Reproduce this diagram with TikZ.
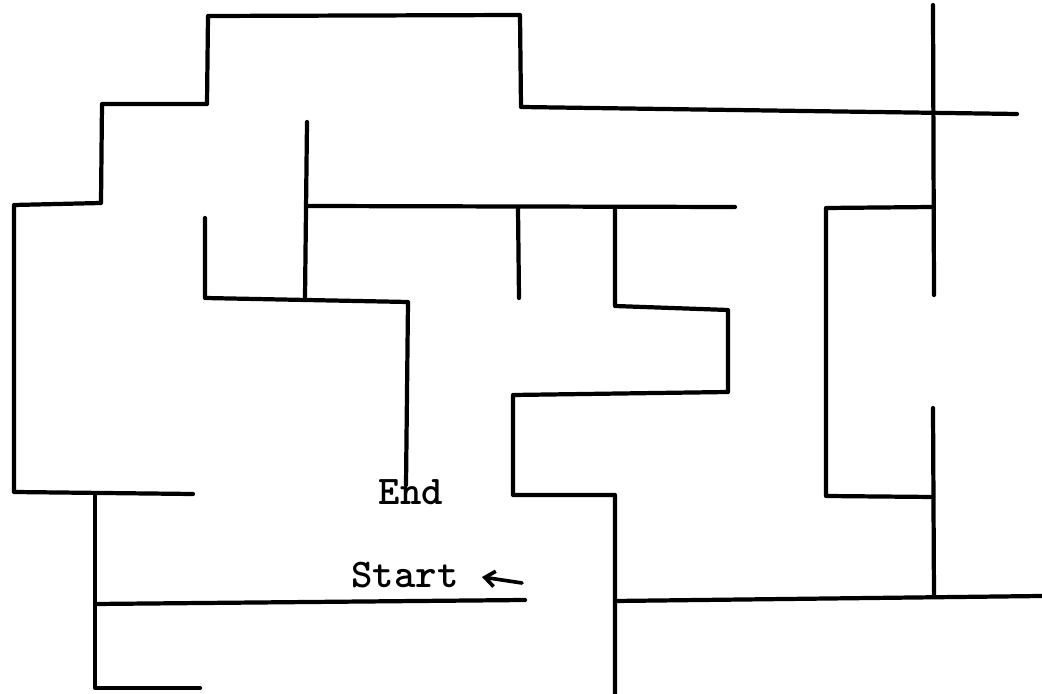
\documentclass[tikz,border=0pt]{standalone}
\usepackage{tikz}
\usetikzlibrary{arrows.meta}

\begin{document}
\begin{tikzpicture}[x=0.025cm, y=-0.025cm,
    wall/.style={line width=3pt, line join=round, line cap=round},
    lbl/.style={font=\fontsize{29}{33}\selectfont\ttfamily\bfseries, inner sep=0pt}]
  \useasboundingbox (0,0) rectangle (1042,694);

  % outer wall, stairs on the left
  \draw[wall] (193,494) -- (14,492) -- (14,205) -- (101,203) -- (102,104)
    -- (207,104) -- (208,16) -- (520,15) -- (521,107) -- (1017,114);
  \draw[wall] (933,5) -- (934,295);
  \draw[wall] (200,688) -- (95,688) -- (95,494);
  \draw[wall] (95,604) -- (525,600);

  % inner walls
  \draw[wall] (307,122) -- (305,298);
  \draw[wall] (307,206) -- (735,207);
  \draw[wall] (205,218) -- (205,298) -- (408,302) -- (406,485);
  \draw[wall] (518,208) -- (519,298);
  \draw[wall] (615,208) -- (615,306) -- (728,310) -- (728,392) -- (513,395)
    -- (513,495) -- (615,495) -- (615,694);
  \draw[wall] (615,601) -- (1042,596);

  % right hand box
  \draw[wall] (933,207) -- (826,208) -- (826,496) -- (933,497);
  \draw[wall] (933,408) -- (934,597);

  % labels
  \node[lbl] (fin) at (411,492) {End};
  \node[lbl] (start) at (405,575) {Start};
  \coordinate (arrtail) at (522,583);
  \coordinate (arrhead) at (482,577);
  \draw[-{Straight Barb[length=7pt,width=11pt]}, line width=2.6pt, line cap=round]
    (arrtail) -- (arrhead);
\end{tikzpicture}
\end{document}
